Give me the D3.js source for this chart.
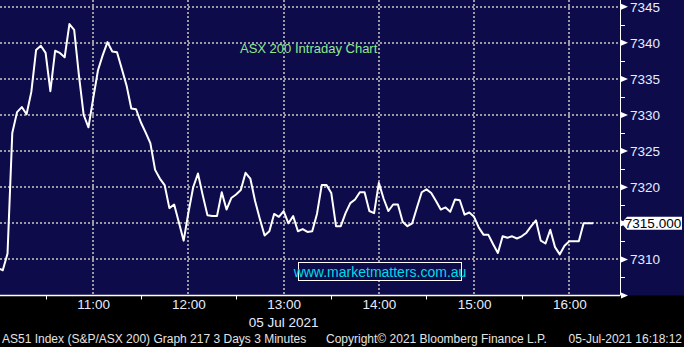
<!DOCTYPE html>
<html>
<head>
<meta charset="utf-8">
<script src="https://cdn.jsdelivr.net/npm/d3@7"></script>
<style>
  body { margin: 0; background: #000; }
  svg { display: block; font-family: "Liberation Sans", Arial, sans-serif; }
</style>
</head>
<body>
<div class="chart"></div>
<script>
// 3 minute bars, 05 Jul 2021
const times = [
  "10:00","10:03","10:06","10:09","10:12","10:15","10:18","10:21","10:24","10:27",
  "10:30","10:33","10:36","10:39","10:42","10:45","10:48","10:51","10:54","10:57",
  "11:00","11:03","11:06","11:09","11:12","11:15","11:18","11:21","11:24","11:27",
  "11:30","11:33","11:36","11:39","11:42","11:45","11:48","11:51","11:54","11:57",
  "12:00","12:03","12:06","12:09","12:12","12:15","12:18","12:21","12:24","12:27",
  "12:30","12:33","12:36","12:39","12:42","12:45","12:48","12:51","12:54","12:57",
  "13:00","13:03","13:06","13:09","13:12","13:15","13:18","13:21","13:24","13:27",
  "13:30","13:33","13:36","13:39","13:42","13:45","13:48","13:51","13:54","13:57",
  "14:00","14:03","14:06","14:09","14:12","14:15","14:18","14:21","14:24","14:27",
  "14:30","14:33","14:36","14:39","14:42","14:45","14:48","14:51","14:54","14:57",
  "15:00","15:03","15:06","15:09","15:12","15:15","15:18","15:21","15:24","15:27",
  "15:30","15:33","15:36","15:39","15:42","15:45","15:48","15:51","15:54","15:57",
  "16:00","16:03","16:06","16:09","16:12","16:15"
];
const values = [
  7308.8,7308.5,7310.8,7327.5,7330.4,7331.1,7330.1,7333.2,7339.0,7339.6,
  7338.6,7333.3,7338.9,7338.6,7338.0,7342.6,7341.8,7335.5,7330.0,7328.3,
  7332.3,7336.2,7338.3,7340.1,7338.8,7338.7,7336.4,7334.1,7330.9,7330.8,
  7329.0,7327.6,7326.1,7322.4,7321.2,7320.3,7317.1,7317.6,7315.1,7312.6,
  7316.5,7320.0,7321.9,7318.9,7316.1,7316.0,7316.0,7319.3,7316.9,7318.5,
  7319.0,7319.6,7322.0,7321.2,7318.1,7315.6,7313.3,7313.9,7316.3,7315.9,
  7316.7,7315.0,7316.0,7313.9,7314.2,7313.8,7313.9,7316.3,7320.3,7320.3,
  7319.2,7314.6,7314.6,7316.4,7317.8,7318.3,7319.3,7319.3,7316.7,7316.4,
  7320.6,7318.4,7316.7,7317.6,7317.6,7315.2,7314.6,7315.0,7317.2,7319.3,
  7319.7,7319.2,7318.1,7316.9,7317.2,7316.6,7318.3,7318.2,7316.2,7316.5,
  7315.9,7314.4,7313.4,7313.4,7312.1,7310.9,7313.2,7313.0,7313.2,7312.9,
  7313.2,7313.7,7314.6,7315.4,7312.6,7312.2,7314.1,7311.7,7310.7,7311.9,
  7312.5,7312.5,7312.5,7315.0,7315.0,7315.0
];
const lastValue = 7315.000;
const yTicks = [7310, 7315, 7320, 7325, 7330, 7335, 7340, 7345];
const yMinor = [7307.5, 7312.5, 7317.5, 7322.5, 7327.5, 7332.5, 7337.5, 7342.5];
const xTicks = ["11:00", "12:00", "13:00", "14:00", "15:00", "16:00"];
const xMinor = ["10:30", "11:30", "12:30", "13:30", "14:30", "15:30"];
const dateLabel = "05 Jul 2021";
const titleText = "ASX 200 Intraday Chart";
const siteText = "www.marketmatters.com.au";
const footLeft = "AS51 Index (S&P/ASX 200) Graph 217 3 Days 3 Minutes";
const footMid = "Copyright\u00a9 2021 Bloomberg Finance L.P.";
const footRight = "05-Jul-2021 16:18:12";

const W = 684, H = 347;
const plotW = 620, plotH = 295.5;

const parse = d3.timeParse("%H:%M");
const data = times.map((t, i) => ({ t: parse(t), v: values[i] }));

let x = d3.scaleTime()
  .domain([parse("10:00"), parse("16:31")])
  .range([-2, plotW - 1.5]);
let y = d3.scaleLinear()
  .domain([7305, 7345.93])
  .range([plotH, 0]);

let svg = d3.select(".chart").append("svg")
  .attr("width", W)
  .attr("height", H);

svg.append("rect")
  .attr("width", W).attr("height", H)
  .attr("fill", "#000");
svg.append("rect")
  .attr("width", W).attr("height", plotH)
  .attr("fill", "#0e0b4b");

svg.append("clipPath").attr("id", "clip")
  .append("rect").attr("width", plotW).attr("height", plotH);

// grid
let grid = svg.append("g")
  .attr("stroke", "#9a9aa6")
  .attr("stroke-width", 2)
  .attr("stroke-dasharray", "2,2");
grid.selectAll(".hg")
  .data(yTicks)
  .enter().append("line")
    .attr("x1", 0).attr("x2", plotW)
    .attr("y1", d => Math.round(y(d)))
    .attr("y2", d => Math.round(y(d)));
grid.selectAll(".vg")
  .data(xTicks)
  .enter().append("line")
    .attr("x1", d => Math.round(x(parse(d))))
    .attr("x2", d => Math.round(x(parse(d))))
    .attr("y1", 0).attr("y2", plotH);

// title
svg.append("text")
  .attr("x", 240).attr("y", 53)
  .attr("fill", "#8fe88f")
  .style("font-size", "13px")
  .text(titleText);

// watermark box
svg.append("rect")
  .attr("x", 298.5).attr("y", 262.5)
  .attr("width", 163).attr("height", 18)
  .attr("fill", "#0e0b4b")
  .attr("stroke", "#ffffff")
  .attr("stroke-width", 1);
svg.append("text")
  .attr("x", 380).attr("y", 276.5)
  .attr("text-anchor", "middle")
  .attr("fill", "#00dce6")
  .style("font-size", "14px")
  .text(siteText);

// price line
let line = d3.line()
  .x(d => x(d.t))
  .y(d => y(d.v));
svg.append("path")
  .datum(data)
  .attr("clip-path", "url(#clip)")
  .attr("fill", "none")
  .attr("stroke", "#ffffff")
  .attr("stroke-width", 2)
  .attr("stroke-linejoin", "round")
  .attr("d", line);

// right axis
svg.append("line")
  .attr("x1", plotW + 0.5).attr("x2", plotW + 0.5)
  .attr("y1", 0).attr("y2", plotH)
  .attr("stroke", "#ffffff");
svg.selectAll(".ytri")
  .data(yTicks.concat([7305]))
  .enter().append("path")
    .attr("fill", "#ffffff")
    .attr("d", d => {
      let yy = y(d);
      return "M" + (plotW + 1) + "," + (yy - 3) + "L" + (plotW + 8) + "," + yy + "L" + (plotW + 1) + "," + (yy + 3) + "Z";
    });
svg.selectAll(".ymin")
  .data(yMinor)
  .enter().append("line")
    .attr("x1", plotW + 1).attr("x2", plotW + 5)
    .attr("y1", d => Math.round(y(d)) + 0.5)
    .attr("y2", d => Math.round(y(d)) + 0.5)
    .attr("stroke", "#ffffff");

let yAxis = svg.append("g")
  .attr("transform", "translate(" + (plotW + 9) + ",0)")
  .call(d3.axisRight(y).tickValues(yTicks).tickFormat(d3.format("d")).tickSize(0).tickPadding(1));
yAxis.select(".domain").remove();
yAxis.selectAll("text")
  .attr("fill", "#e6ecff")
  .style("font-size", "13.5px")
  .style("font-family", "'Liberation Sans', Arial, sans-serif");
// hide the label sitting under the last value tag
yAxis.selectAll(".tick").filter(d => d === 7315).remove();

// last value tag
let ly = y(lastValue);
svg.append("path")
  .attr("fill", "#ffffff")
  .attr("d", "M" + (plotW + 1.5) + "," + ly +
             "L" + (plotW + 7) + "," + (ly - 6.5) +
             "L" + 682 + "," + (ly - 6.5) +
             "L" + 682 + "," + (ly + 6.5) +
             "L" + (plotW + 7) + "," + (ly + 6.5) + "Z");
svg.append("text")
  .attr("x", 653).attr("y", ly + 5)
  .attr("text-anchor", "middle")
  .attr("fill", "#000000")
  .style("font-size", "13.5px")
  .text(d3.format(".3f")(lastValue));

// bottom axis
svg.append("line")
  .attr("x1", 0).attr("x2", plotW)
  .attr("y1", plotH).attr("y2", plotH)
  .attr("stroke", "#ffffff")
  .attr("stroke-width", 1.5);
svg.selectAll(".xmin")
  .data(xMinor)
  .enter().append("line")
    .attr("x1", d => Math.round(x(parse(d))) + 0.5)
    .attr("x2", d => Math.round(x(parse(d))) + 0.5)
    .attr("y1", plotH).attr("y2", plotH + 4)
    .attr("stroke", "#ffffff");

let xAxis = svg.append("g")
  .attr("transform", "translate(0," + plotH + ")")
  .call(d3.axisBottom(x).tickValues(xTicks.map(parse)).tickFormat(d3.timeFormat("%H:%M")).tickSize(0).tickPadding(4));
xAxis.select(".domain").remove();
xAxis.selectAll("text")
  .attr("fill", "#e6ecff")
  .style("font-size", "13.5px")
  .style("font-family", "'Liberation Sans', Arial, sans-serif");

svg.append("text")
  .attr("x", x(parse("13:00"))).attr("y", 327)
  .attr("text-anchor", "middle")
  .attr("fill", "#e6ecff")
  .style("font-size", "13.5px")
  .text(dateLabel);

// footer
let foot = svg.append("g")
  .attr("fill", "#e4e4e4")
  .style("font-size", "12px");
foot.append("text").attr("x", 2).attr("y", 343).text(footLeft);
foot.append("text").attr("x", 326).attr("y", 343).text(footMid);
foot.append("text").attr("x", 682).attr("y", 343).attr("text-anchor", "end").text(footRight);
</script>
</body>
</html>
